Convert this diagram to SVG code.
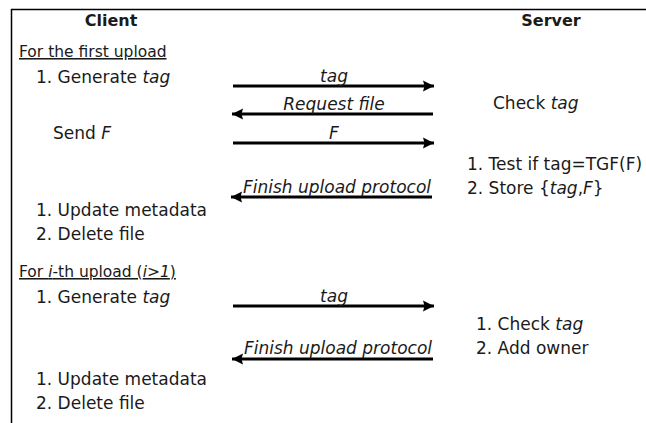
<svg xmlns="http://www.w3.org/2000/svg" width="646" height="423" viewBox="0 0 646 423">
<style>
text{font-family:"DejaVu Sans","Verdana",sans-serif;fill:#1a1a1a;font-size:17px}
.h{font-weight:bold;font-size:16px;text-anchor:middle}
.u{font-size:15.5px;text-decoration:underline}
.i{font-style:italic}
.lbl{font-style:italic;text-anchor:middle}
.ln{stroke:#000;stroke-width:2.8;fill:none}
</style>
<defs>
<marker id="ah" markerUnits="userSpaceOnUse" markerWidth="14" markerHeight="14" viewBox="0 0 14 14" refX="11" refY="7" orient="auto">
<path d="M0,1.5 L11,7 L0,12.5 L1.5,7 Z" fill="#000"/>
</marker>
</defs>
<g id="frame">
<line x1="11" y1="9.5" x2="646" y2="9.5" stroke="#000" stroke-width="1.5"/>
<line x1="11.5" y1="9" x2="11.5" y2="423" stroke="#000" stroke-width="1.5"/>
</g>
<g id="client">
<text class="h" x="111" y="26">Client</text>
<text class="u" x="19" y="57">For the first upload</text>
<text x="36" y="83">1. Generate <tspan class="i">tag</tspan></text>
<text x="53" y="139">Send <tspan class="i">F</tspan></text>
<text x="36" y="216">1. Update metadata</text>
<text x="36" y="240">2. Delete file</text>
<text class="u" x="19" y="277">For <tspan class="i">i</tspan>-th upload (<tspan class="i">i&gt;1</tspan>)</text>
<text x="36" y="303">1. Generate <tspan class="i">tag</tspan></text>
<text x="36" y="385">1. Update metadata</text>
<text x="36" y="409">2. Delete file</text>
</g>
<g id="server">
<text class="h" x="551" y="26">Server</text>
<text x="493" y="109">Check <tspan class="i">tag</tspan></text>
<text x="467" y="170">1. Test if tag=TGF(F)</text>
<text x="467" y="194">2. Store {<tspan class="i">tag</tspan>,<tspan class="i">F</tspan>}</text>
<text x="476" y="330">1. Check <tspan class="i">tag</tspan></text>
<text x="476" y="354">2. Add owner</text>
</g>
<g id="connectors">
<line class="ln" x1="233" y1="86" x2="434" y2="86" marker-end="url(#ah)"/>
<text class="lbl" x="334" y="82">tag</text>
<line class="ln" x1="433" y1="114" x2="232" y2="114" marker-end="url(#ah)"/>
<text class="lbl" x="334" y="110">Request file</text>
<line class="ln" x1="233" y1="143" x2="434" y2="143" marker-end="url(#ah)"/>
<text class="lbl" x="334" y="139">F</text>
<line class="ln" x1="432" y1="197" x2="231" y2="197" marker-end="url(#ah)"/>
<text class="lbl" x="337" y="193">Finish upload protocol</text>
<line class="ln" x1="233" y1="306" x2="434" y2="306" marker-end="url(#ah)"/>
<text class="lbl" x="334" y="302">tag</text>
<line class="ln" x1="433" y1="359" x2="232" y2="359" marker-end="url(#ah)"/>
<text class="lbl" x="338" y="354">Finish upload protocol</text>
</g>
</svg>
